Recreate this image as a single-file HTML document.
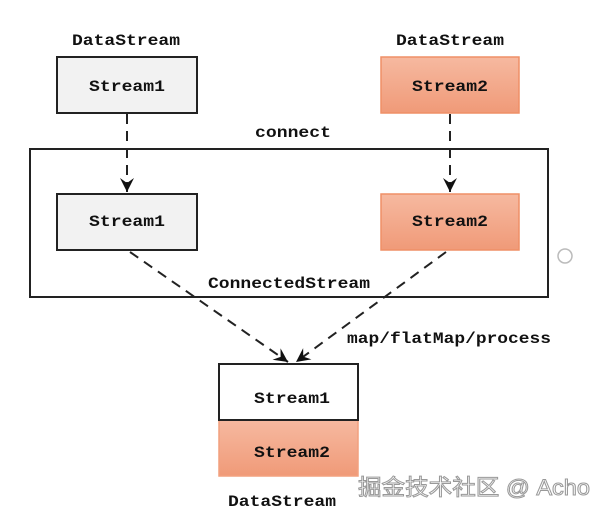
<!DOCTYPE html>
<html><head><style>
body{margin:0;background:#fff;width:606px;height:516px;overflow:hidden}
svg text{font-family:"Liberation Mono","DejaVu Sans Mono",monospace;font-size:16px;font-weight:bold;fill:#111}
</style></head><body>
<svg width="606" height="516" xmlns="http://www.w3.org/2000/svg">
<defs>
<linearGradient id="o" x1="0" y1="0" x2="0" y2="1"><stop offset="0" stop-color="#f6b9a0"/><stop offset="1" stop-color="#f09a78"/></linearGradient>
<marker id="a" markerWidth="16" markerHeight="16" refX="14" refY="7" orient="auto" markerUnits="userSpaceOnUse"><path d="M0,0 L14,7 L0,14 L5,7 Z" fill="#111"/></marker>
</defs>
<text x="126" y="45" text-anchor="middle" textLength="108" lengthAdjust="spacingAndGlyphs">DataStream</text>
<text x="450" y="45" text-anchor="middle" textLength="108" lengthAdjust="spacingAndGlyphs">DataStream</text>
<rect x="57" y="57" width="140" height="56" fill="#f2f2f2" stroke="#222" stroke-width="2"/>
<text x="127" y="91" text-anchor="middle" textLength="76" lengthAdjust="spacingAndGlyphs">Stream1</text>
<rect x="381" y="57" width="138" height="56" fill="url(#o)" stroke="#ef8f67" stroke-width="1.5"/>
<text x="450" y="91" text-anchor="middle" textLength="76" lengthAdjust="spacingAndGlyphs">Stream2</text>
<text x="293" y="137" text-anchor="middle" textLength="76" lengthAdjust="spacingAndGlyphs">connect</text>
<rect x="30" y="149" width="518" height="148" fill="none" stroke="#222" stroke-width="2"/>
<rect x="57" y="194" width="140" height="56" fill="#f2f2f2" stroke="#222" stroke-width="2"/>
<text x="127" y="226" text-anchor="middle" textLength="76" lengthAdjust="spacingAndGlyphs">Stream1</text>
<rect x="381" y="194" width="138" height="56" fill="url(#o)" stroke="#ef8f67" stroke-width="1.5"/>
<text x="450" y="226" text-anchor="middle" textLength="76" lengthAdjust="spacingAndGlyphs">Stream2</text>
<text x="289" y="288" text-anchor="middle" textLength="162" lengthAdjust="spacingAndGlyphs">ConnectedStream</text>
<g stroke="#222" stroke-width="2" stroke-dasharray="10,7" fill="none">
<line x1="127" y1="114" x2="127" y2="192" marker-end="url(#a)"/>
<line x1="450" y1="114" x2="450" y2="192" marker-end="url(#a)"/>
<line x1="130" y1="252" x2="288" y2="362" marker-end="url(#a)"/>
<line x1="446" y1="252" x2="296" y2="362" marker-end="url(#a)"/>
</g>
<text x="449" y="343" text-anchor="middle" textLength="204" lengthAdjust="spacingAndGlyphs">map/flatMap/process</text>
<rect x="219" y="420" width="139" height="56" fill="url(#o)" stroke="#f2a07f" stroke-width="1.5"/>
<rect x="219" y="364" width="139" height="56" fill="#fff" stroke="#222" stroke-width="2"/>
<text x="292" y="403" text-anchor="middle" textLength="76" lengthAdjust="spacingAndGlyphs">Stream1</text>
<text x="292" y="457" text-anchor="middle" textLength="76" lengthAdjust="spacingAndGlyphs">Stream2</text>
<text x="282" y="506" text-anchor="middle" textLength="108" lengthAdjust="spacingAndGlyphs">DataStream</text>
<circle cx="565" cy="256" r="7" fill="#fff" stroke="#bbb" stroke-width="1.5"/>
<text x="358" y="495" textLength="232" lengthAdjust="spacingAndGlyphs" style="font-family:'Liberation Sans','Noto Sans CJK SC',sans-serif;font-size:22px;font-weight:normal;fill:#fff;stroke:#999;stroke-width:1">掘金技术社区 @ Acho</text>
</svg>
</body></html>
